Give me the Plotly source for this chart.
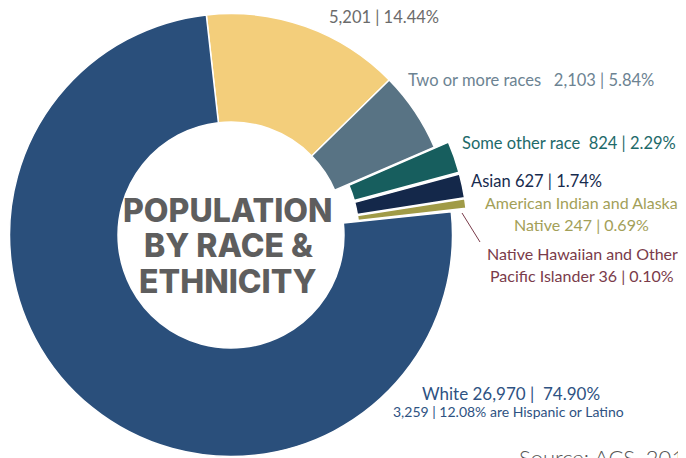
import numpy as np
import plotly.graph_objects as go

# the page body keeps an 8px margin, so the figure is sized to the part of
# the 686x458 window that it actually fills
OFF = 8
W, H = 686 - OFF, 458 - OFF

# data, clockwise from the top
groups = ["Black or African American", "Two or more races", "Some other race", "Asian",
          "American Indian and Alaska Native", "Native Hawaiian and Other Pacific Islander", "White"]
counts = [5201, 2103, 824, 627, 247, 36, 26970]
shares = [14.44, 5.84, 2.29, 1.74, 0.69, 0.10, 74.90]
hispanic_count = 3259
hispanic_share = 12.08
colors = ["#F3CE7B", "#587384", "#175E5E", "#14284A", "#A09B47", "#7A3545", "#2A4F7B"]
pulled = ["Some other race", "Asian", "American Indian and Alaska Native"]

# geometry of the donut in window pixels
CX, CY, R = 231, 235, 221.5
HOLE = 0.51
PULL = 15
ROT = -6.4


def px(x):
    return (x - OFF) / W


def py(y):
    return 1 - (y - OFF) / H


def domain(cx, cy):
    return dict(x=[max(0, px(cx - R)), min(1, px(cx + R))],
                y=[max(0, py(cy + R)), min(1, py(cy - R))])


def pie(colors_, widths, dom):
    return go.Pie(
        labels=groups, values=counts, sort=False, direction="clockwise",
        rotation=ROT, hole=HOLE, textinfo="none", hoverinfo="label+value+percent",
        marker=dict(colors=colors_, line=dict(color="white", width=widths)),
        domain=dom, showlegend=False,
    )


clear = "rgba(0,0,0,0)"
fig = go.Figure()

# main ring, pulled slices left out
fig.add_trace(pie([clear if g in pulled else c for g, c in zip(groups, colors)],
                  [0 if g in pulled else 1.5 for g in groups],
                  domain(CX, CY)))

# pulled slices: same ring, shifted out along each slice's bisector
total = sum(counts)
start = np.cumsum([0] + counts[:-1])
for i, g in enumerate(groups):
    if g not in pulled:
        continue
    ang = np.radians(ROT + 360 * (start[i] + counts[i] / 2) / total)
    dx, dy = PULL * np.sin(ang), -PULL * np.cos(ang)
    fig.add_trace(pie([c if j == i else clear for j, c in enumerate(colors)],
                      [1.5 if j == i else 0 for j in range(len(groups))],
                      domain(CX + dx, CY + dy)))

annotations = []


def label(text, x, y, color, size=16.5, anchor="center", family="Lato", weight=None, height=None):
    f = dict(family=family, size=size, color=color)
    if weight:
        f["weight"] = weight
    a = dict(text=text, x=px(x), y=py(y), xref="paper", yref="paper",
             xanchor=anchor, yanchor="middle", showarrow=False, font=f,
             align=anchor if anchor != "center" else "center")
    if height:
        a["height"] = height
    annotations.append(a)


# centre title
for t, y in zip(["POPULATION", "BY RACE &", "ETHNICITY"], [210, 245, 281]):
    label(t, 228, y, "#5E5E5E", size=32, family="Inter", weight=800, height=32)

label(f"{counts[0]:,} | {shares[0]:.2f}%", 327, 17, "#6B6B6B", anchor="left")
label(f"{groups[1]}   {counts[1]:,} | {shares[1]:.2f}%", 406, 80, "#6C8392", anchor="left")
label(f"{groups[2]}  {counts[2]:,} | {shares[2]:.2f}%", 460, 143, "#1D6A6A", anchor="left")
label(f"{groups[3]} {counts[3]:,} | {shares[3]:.2f}%", 469, 181, "#172B4E", anchor="left")
label("American Indian and Alaska", 581, 202, "#A3A058", size=16)
label(f"Native {counts[4]:,} | {shares[4]:.2f}%", 581, 224, "#A3A058", size=16)
label("Native Hawaiian and Other", 582, 254, "#7A3B4A", size=16)
label(f"Pacific Islander {counts[5]:,} | {shares[5]:.2f}%", 582, 275, "#7A3B4A", size=16)
label(f"{groups[6]} {counts[6]:,} |  {shares[6]:.2f}%", 420, 393, "#2E5282", size=17, anchor="left")
label(f"{hispanic_count:,} | {hispanic_share:.2f}% are Hispanic or Latino", 391, 411,
      "#2E5282", size=14, anchor="left")

annotations.append(dict(text="Source: ACS, 2019", x=px(517), y=py(442), xref="paper", yref="paper",
                        xanchor="left", yanchor="top", showarrow=False,
                        font=dict(family="Lato", size=22, color="#555555", weight=300)))

fig.update_layout(
    width=W, height=H,
    margin=dict(l=0, r=0, t=0, b=0),
    paper_bgcolor="white", plot_bgcolor="white",
    annotations=annotations,
    shapes=[dict(type="line", xref="paper", yref="paper",
                 x0=px(462), y0=py(213), x1=px(480), y1=py(242),
                 line=dict(color="#7A3B4A", width=1))],
)

fig.write_html("out.html")
